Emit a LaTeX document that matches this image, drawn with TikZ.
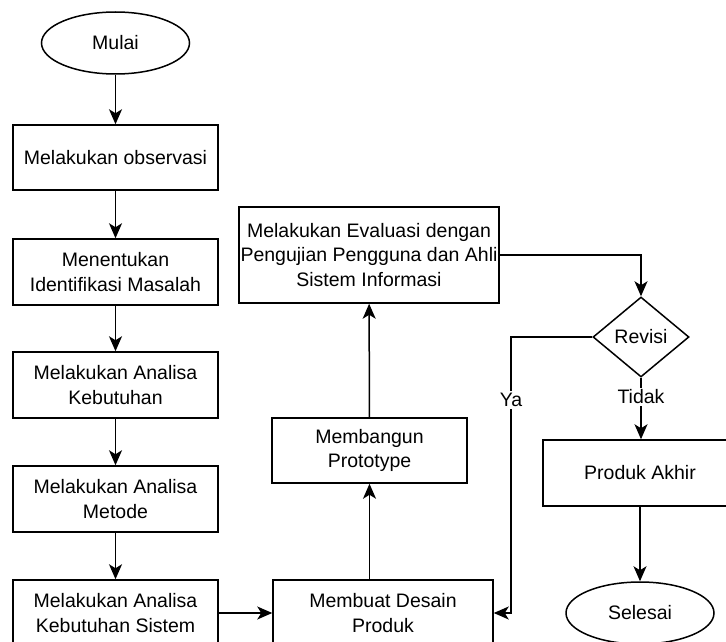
\documentclass[tikz,border=0pt]{standalone}
\usepackage{fontspec}
\setmainfont{Liberation Sans}
\usetikzlibrary{arrows.meta,shapes.geometric}
\begin{document}
\begin{tikzpicture}[x=1pt,y=-1pt,
  every node/.style={font=\fontsize{19.5}{24.5}\selectfont, inner sep=0pt, align=center},
  box/.style={draw, line width=1.5pt, minimum width=205pt, minimum height=65pt},
  term/.style={draw, ellipse, line width=1.5pt, minimum width=148pt, minimum height=62pt},
  lbl/.style={fill=white, inner sep=2pt},
  conn/.style={line width=1.5pt, -{Stealth[length=15pt,width=13pt,inset=4pt]}}]
\useasboundingbox[fill=white] (0,0) rectangle (726,642);
\node[term] (mulai) at (115.5,43) {Mulai};
\node[box] (obs) at (115.5,157.5) {Melakukan observasi};
\node[box, minimum height=66pt] (ident) at (115.5,272) {Menentukan\\Identifikasi Masalah};
\node[box, minimum height=66pt] (kebut) at (115.5,385) {Melakukan Analisa\\Kebutuhan};
\node[box, minimum height=66pt] (metode) at (115.5,499) {Melakukan Analisa\\Metode};
\node[box, minimum height=66pt] (sistem) at (115.5,613) {Melakukan Analisa\\Kebutuhan Sistem};
\node[box, minimum width=220pt, minimum height=66pt] (desain) at (383,613) {Membuat Desain\\Produk};
\node[box, minimum width=195pt] (proto) at (369.5,450.5) {Membangun\\Prototype};
\node[box, minimum width=260pt, minimum height=96pt] (eval) at (369,255) {Melakukan Evaluasi dengan\\Pengujian Pengguna dan Ahli\\Sistem Informasi};
\node[draw, diamond, line width=1.5pt, minimum width=96pt, minimum height=80pt, inner sep=0pt, shape aspect=1.2] (revisi) at (641,337) {};
\node at (641,337) {Revisi};
\node[box, minimum width=194pt, minimum height=66pt] (akhir) at (640,473) {Produk Akhir};
\node[term, minimum height=62pt] (selesai) at (640,613) {Selesai};
\coordinate (ya) at (511,337);
\draw[conn] (mulai) -- (obs);
\draw[conn] (obs) -- (ident);
\draw[conn] (ident) -- (kebut);
\draw[conn] (kebut) -- (metode);
\draw[conn] (metode) -- (sistem);
\draw[conn] (sistem) -- (desain);
\draw[conn] (desain.north -| proto.south) -- (proto.south);
\draw[conn] (proto) -- (eval);
\draw[conn] (eval.east) -| (revisi.north);
\draw[conn] (revisi.west) -- (ya) |- (desain.east);
\node[lbl] at (511,400) {Ya};
\draw[conn] (revisi.south) -- (akhir.north -| revisi.south);
\node[lbl] at (641,397) {Tidak};
\draw[conn] (akhir) -- (selesai);
\end{tikzpicture}
\end{document}
